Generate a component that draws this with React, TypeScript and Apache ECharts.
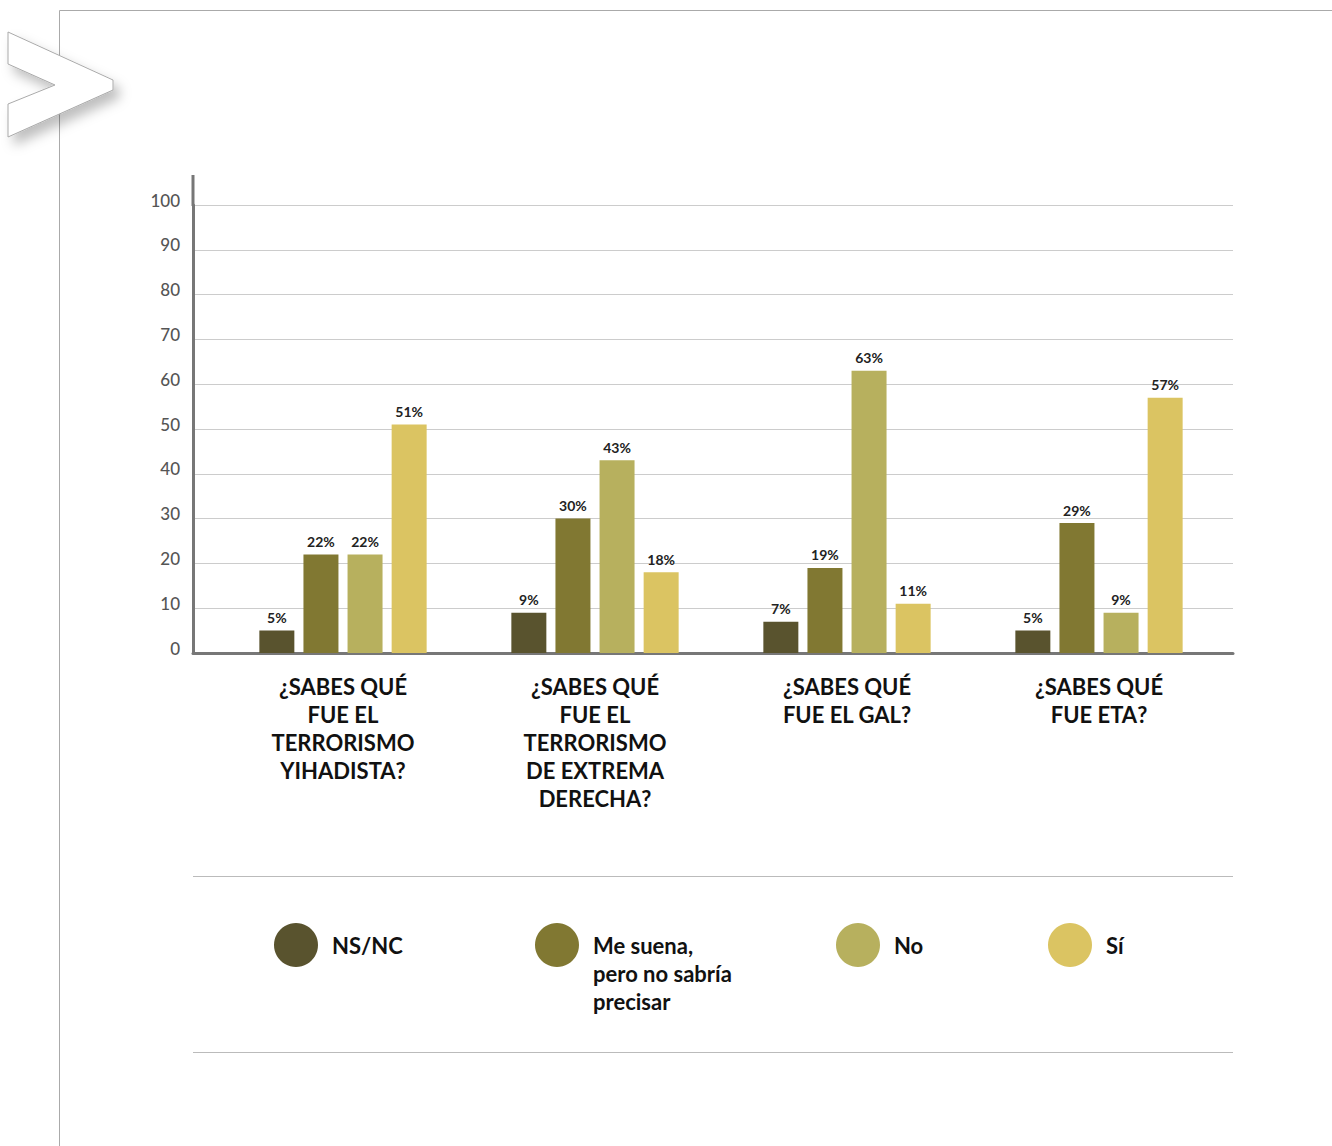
import React, { useEffect, useRef } from "react";
import * as echarts from "echarts";

const categories = [
  "¿SABES QUÉ\nFUE EL\nTERRORISMO\nYIHADISTA?",
  "¿SABES QUÉ\nFUE EL\nTERRORISMO\nDE EXTREMA\nDERECHA?",
  "¿SABES QUÉ\nFUE EL GAL?",
  "¿SABES QUÉ\nFUE ETA?",
];
const seriesNames = ["NS/NC", "Me suena, pero no sabría precisar", "No", "Sí"];
const legendLabels = ["NS/NC", "\n\nMe suena,\npero no sabría\nprecisar", "No", "Sí"];
const nsnc = [5, 9, 7, 5];
const meSuena = [22, 30, 19, 29];
const no = [22, 43, 63, 9];
const si = [51, 18, 11, 57];
const yTicks = [0, 10, 20, 30, 40, 50, 60, 70, 80, 90, 100];

const colors = ["#59532e", "#817832", "#b7b05e", "#dbc462"];
const FONT = "Lato";

export default function App() {
  const ref = useRef<HTMLDivElement>(null);
  useEffect(() => {
    document.body.style.margin = "0";
    const chart = echarts.init(ref.current!, null, { renderer: "svg" });
    const values = [nsnc, meSuena, no, si];
    const legendLeft = [274, 535, 836, 1048];
    const legendTop = [923, 875, 923, 923];
    const option: any = {
      animation: false,
      backgroundColor: "#ffffff",
      textStyle: { fontFamily: FONT },
      grid: [
        { left: 193, right: 99, top: 205, bottom: 493 },
        { left: 217, right: 107, top: 205, bottom: 493 },
      ],
      xAxis: [
        {
          gridIndex: 0,
          type: "category",
          data: categories,
          axisLine: { show: true, lineStyle: { color: "#777777", width: 3 } },
          axisTick: { show: false },
          axisLabel: { show: false },
        },
        {
          gridIndex: 1,
          type: "category",
          data: categories,
          axisLine: { show: false },
          axisTick: { show: false },
          axisLabel: {
            interval: 0,
            margin: 19,
            fontFamily: FONT,
            fontSize: 22,
            fontWeight: 700,
            color: "#111111",
            lineHeight: 28,
          },
        },
      ],
      yAxis: [
        {
          gridIndex: 0,
          type: "value",
          min: 0,
          max: 100,
          interval: 10,
          axisLine: { show: true, lineStyle: { color: "#777777", width: 3 } },
          axisTick: { show: false },
          splitLine: { lineStyle: { color: "#cccccc", width: 1 } },
          axisLabel: {
            margin: 13,
            fontFamily: FONT,
            fontSize: 17,
            fontWeight: 500,
            color: "#555555",
            verticalAlign: "bottom",
            lineHeight: 10,
            formatter: (v: number) => (yTicks.includes(v) ? String(v) : ""),
          },
        },
        {
          gridIndex: 1,
          type: "value",
          min: 0,
          max: 100,
          interval: 10,
          show: false,
        },
      ],
      legend: seriesNames.map((n, i) => ({
        data: [n],
        left: legendLeft[i],
        top: legendTop[i],
        icon: "circle",
        itemWidth: 44,
        itemHeight: 44,
        padding: 0,
        selectedMode: false,
        formatter: () => legendLabels[i],
        textStyle: {
          fontFamily: FONT,
          fontSize: 22,
          fontWeight: 700,
          color: "#111111",
          lineHeight: 28,
          padding: [0, 0, 0, 9],
        },
      })),
      series: seriesNames.map((n, i) => ({
        name: n,
        type: "bar",
        xAxisIndex: 1,
        yAxisIndex: 1,
        data: values[i],
        barWidth: 35,
        barGap: "26%",
        itemStyle: { color: colors[i] },
        label: {
          show: true,
          position: "top",
          distance: 6,
          formatter: "{c}%",
          fontFamily: FONT,
          fontSize: 14,
          fontWeight: 700,
          color: "#222222",
        },
      })),
      graphic: [
        {
          type: "line",
          shape: { x1: 59.5, y1: 10.5, x2: 1332, y2: 10.5 },
          style: { stroke: "#aaaaaa", lineWidth: 1 },
          z: 1,
        },
        {
          type: "line",
          shape: { x1: 59.5, y1: 10.5, x2: 59.5, y2: 1146 },
          style: { stroke: "#aaaaaa", lineWidth: 1 },
          z: 1,
        },
        {
          type: "polygon",
          shape: {
            points: [
              [8, 32],
              [113, 80],
              [113, 90],
              [8, 137],
              [8, 104],
              [55, 85],
              [8, 64],
            ],
          },
          style: {
            fill: "#ffffff",
            stroke: "#aaaaaa",
            lineWidth: 1,
            shadowBlur: 12,
            shadowColor: "rgba(0,0,0,0.25)",
            shadowOffsetX: 6,
            shadowOffsetY: 8,
          },
          z: 5,
        },
        {
          type: "line",
          shape: { x1: 193, y1: 175, x2: 193, y2: 206 },
          style: { stroke: "#777777", lineWidth: 3 },
          z: 5,
        },
        {
          type: "line",
          shape: { x1: 193, y1: 876.5, x2: 1233, y2: 876.5 },
          style: { stroke: "#bbbbbb", lineWidth: 1 },
        },
        {
          type: "line",
          shape: { x1: 193, y1: 1052.5, x2: 1233, y2: 1052.5 },
          style: { stroke: "#bbbbbb", lineWidth: 1 },
        },
      ],
    };
    chart.setOption(option);
    return () => chart.dispose();
  }, []);
  return <div ref={ref} style={{ width: 1332, height: 1146 }} />;
}
